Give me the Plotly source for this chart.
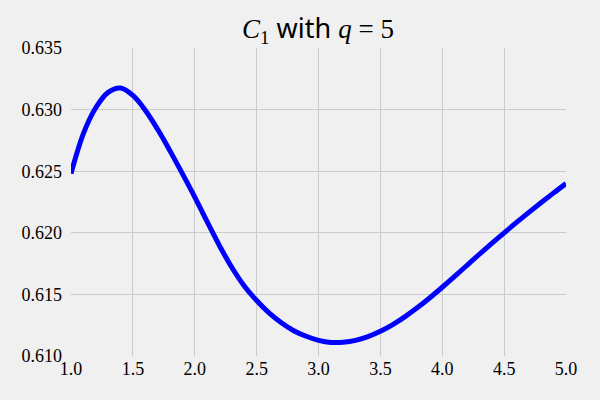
import plotly.graph_objects as go

# C_1 values, q = 5
x_vals = [1.0, 1.1, 1.2, 1.3, 1.4, 1.5, 1.6, 1.7, 1.8, 1.9,
          2.0, 2.1, 2.2, 2.3, 2.4, 2.5, 2.6, 2.7, 2.8, 2.9,
          3.0, 3.1, 3.2, 3.3, 3.4, 3.5, 3.6, 3.7, 3.8, 3.9,
          4.0, 4.1, 4.2, 4.3, 4.4, 4.5, 4.6, 4.7, 4.8, 4.9, 5.0]
c1_vals = [0.62480, 0.62805, 0.63015, 0.63140, 0.63175, 0.63115, 0.62995, 0.62840, 0.62665, 0.62480,
           0.62290, 0.62090, 0.61895, 0.61718, 0.61568, 0.61450, 0.61350, 0.61270, 0.61205, 0.61160,
           0.61127, 0.61110, 0.61112, 0.61127, 0.61157, 0.61200, 0.61255, 0.61320, 0.61393, 0.61473,
           0.61558, 0.61646, 0.61736, 0.61826, 0.61914, 0.62000, 0.62084, 0.62166, 0.62246, 0.62324, 0.62400]
x_ticks = [1.0, 1.5, 2.0, 2.5, 3.0, 3.5, 4.0, 4.5, 5.0]
y_ticks = [0.610, 0.615, 0.620, 0.625, 0.630, 0.635]

serif = "Liberation Serif"
sans = "Noto Sans"

fig = go.Figure()

fig.add_trace(
    go.Scatter(
        x=x_vals,
        y=c1_vals,
        mode='lines',
        line=dict(color='#0000ff', width=5, shape='spline'),
        showlegend=False
    ))

title_text = ('<i>C</i><sub>1</sub>'
              '<span style="font-family:%s"> with </span>'
              '<i>q</i> = 5' % sans)

fig.update_layout(
    width=600,
    height=400,
    paper_bgcolor='#f0f0f0',
    plot_bgcolor='#f0f0f0',
    margin=dict(l=71, r=34, t=48, b=44),
    title=dict(text=title_text, x=318 / 600, xanchor='center',
               y=1 - 29 / 400, yanchor='middle', yref='container',
               font=dict(family=serif, size=27, color='#000000')),
    font=dict(family=serif, size=18, color='#000000'),
)
fig.update_xaxes(
    range=[1.0, 5.0],
    tickvals=x_ticks,
    ticktext=['%.1f' % v for v in x_ticks],
    showgrid=True, gridcolor='#cbcbcb', gridwidth=1,
    zeroline=False, showline=False, ticks='', ticklabelstandoff=0,
)
fig.update_yaxes(
    range=[0.610, 0.635],
    tickvals=y_ticks,
    ticktext=['%.3f' % v for v in y_ticks],
    showgrid=True, gridcolor='#cbcbcb', gridwidth=1,
    zeroline=False, showline=False, ticks='', ticklabelstandoff=8,
)

# drop the default page margin so the figure sits at the window corner
fig.write_html("out.html",
               config={'displayModeBar': False},
               post_script="document.body.style.margin='0';"
                           "document.body.style.background='#f0f0f0';")
